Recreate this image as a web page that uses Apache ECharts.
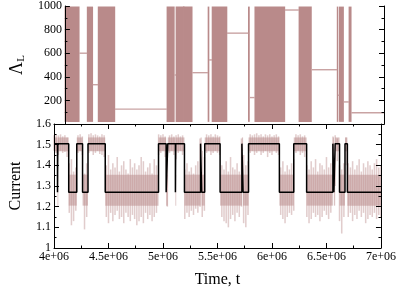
<!DOCTYPE html>
<html><head><meta charset="utf-8">
<script src="https://cdn.jsdelivr.net/npm/echarts@6/dist/echarts.min.js"></script>
<style>html,body{margin:0;padding:0;background:#fff}#c{width:399px;height:289px}</style>
</head><body><div id="c"></div>
<script>
// ---- data ----
const xMin = 4.0e6, xMax = 7.0e6;
const xTickValues = [4.0e6, 4.5e6, 5.0e6, 5.5e6, 6.0e6, 6.5e6, 7.0e6];
const xTickLabels = ['4e+06', '4.5e+06', '5e+06', '5.5e+06', '6e+06', '6.5e+06', '7e+06'];
const yTopTickValues = [0, 200, 400, 600, 800, 1000];
const yTopTickLabels = ['', '200', '400', '600', '800', '1000'];
const yBotTickValues = [1.0, 1.1, 1.2, 1.3, 1.4, 1.5, 1.6];
const yBotTickLabels = ['1', '1.1', '1.2', '1.3', '1.4', '1.5', '1.6'];

// segments of the switching process (start times; each ends at next start or xMax)
const segStart = [4.000e6, 4.032e6, 4.035e6, 4.135e6, 4.209e6, 4.262e6, 4.312e6, 4.470e6, 4.959e6, 5.029e6,
                  5.044e6, 5.114e6, 5.117e6, 5.197e6, 5.345e6, 5.355e6, 5.383e6, 5.524e6, 5.724e6, 5.735e6,
                  5.785e6, 6.068e6, 6.200e6, 6.318e6, 6.559e6, 6.568e6, 6.580e6, 6.620e6, 6.670e6, 6.692e6];
// current step level (black line)
const segCurrent = [1.505, 1.27, 1.505, 1.27, 1.505, 1.27, 1.505, 1.27, 1.505, 1.27,
                    1.505, 1.27, 1.505, 1.27, 1.505, 1.27, 1.505, 1.27, 1.505, 1.27,
                    1.505, 1.27, 1.505, 1.27, 1.505, 1.27, 1.505, 1.27, 1.505, 1.27];
// top panel: 1 = Lambda_L oscillating rapidly over full range, 0 = constant plateau
const segOscillating = [1, 1, 1, 0, 1, 0, 1, 0, 1, 0,
                        1, 1, 1, 0, 1, 0, 1, 0, 1, 0,
                        1, 0, 1, 0, 1, 0, 1, 0, 1, 0];
const segLambda = [null, null, null, 600, null, 333, null, 126, null, 415,
                   null, null, null, 435, null, 543, null, 770, null, 224,
                   null, 966, null, 460, null, 244, null, 187, null, 95];
const oscRange = [18, 995];

// noisy current envelope, sampled every noiseStep from noiseT0
const noiseT0 = 4.0e6, noiseStep = 20000;
const noiseHi = [
  1.545, 1.55, 1.545, 1.55, 1.54, 1.545, 1.535,
  1.41, 1.43, 1.37, 1.39,
  1.545, 1.55, 1.54,
  1.36, 1.41,
  1.55, 1.555, 1.545, 1.55, 1.545, 1.54, 1.55, 1.545,
  1.40, 1.45, 1.38, 1.41, 1.39, 1.44, 1.37, 1.40, 1.42, 1.38, 1.36, 1.43,
  1.39, 1.41, 1.38, 1.40, 1.44, 1.42, 1.37, 1.39, 1.41, 1.36, 1.43, 1.40,
  1.55, 1.545, 1.55, 1.54,
  1.50,
  1.545, 1.55, 1.54, 1.545, 1.55, 1.54, 1.545,
  1.38, 1.41, 1.37, 1.39, 1.36, 1.40, 1.42,
  1.53,
  1.47, 1.44,
  1.55, 1.545, 1.55, 1.54, 1.55, 1.545, 1.54,
  1.40, 1.38, 1.42, 1.37, 1.44, 1.39, 1.38, 1.41, 1.37,
  1.53,
  1.45, 1.40, 1.42,
  1.55, 1.545, 1.55, 1.555, 1.545, 1.55, 1.54, 1.55, 1.545, 1.55, 1.54, 1.545, 1.55, 1.54,
  1.39, 1.42, 1.37, 1.40, 1.38, 1.41, 1.43,
  1.55, 1.545, 1.55, 1.54, 1.545,
  1.40, 1.38, 1.42, 1.39, 1.43, 1.37, 1.41, 1.40, 1.38, 1.44, 1.39, 1.41,
  1.54, 1.545, 1.53,
  1.40, 1.38, 1.41,
  1.535,
  1.41, 1.39, 1.42, 1.38, 1.40, 1.43, 1.37, 1.41, 1.39, 1.42, 1.40, 1.38, 1.41, 1.43, 1.39, 1.40
];
const noiseLo = [
  1.47, 1.46, 1.45, 1.47, 1.46, 1.465, 1.44,
  1.17, 1.11, 1.13, 1.18,
  1.46, 1.47, 1.45,
  1.09, 1.15,
  1.46, 1.47, 1.45, 1.46, 1.47, 1.455, 1.45, 1.44,
  1.15, 1.12, 1.17, 1.13, 1.16, 1.18, 1.14, 1.15, 1.12, 1.17, 1.15, 1.13,
  1.16, 1.14, 1.11, 1.13, 1.15, 1.12, 1.17, 1.14, 1.16, 1.13, 1.15, 1.17,
  1.45, 1.46, 1.47, 1.44,
  1.20,
  1.46, 1.47, 1.45, 1.43, 1.46, 1.47, 1.45,
  1.14, 1.17, 1.15, 1.18, 1.16, 1.19, 1.17,
  1.20,
  1.15, 1.18,
  1.46, 1.47, 1.45, 1.46, 1.47, 1.46, 1.45,
  1.15, 1.13, 1.12, 1.10, 1.14, 1.16, 1.13, 1.17, 1.15,
  1.20,
  1.12, 1.10, 1.16,
  1.46, 1.47, 1.45, 1.46, 1.47, 1.45, 1.46, 1.47, 1.44, 1.46, 1.45, 1.47, 1.46, 1.45,
  1.16, 1.14, 1.12, 1.15, 1.17, 1.16, 1.18,
  1.46, 1.47, 1.45, 1.46, 1.44,
  1.15, 1.12, 1.14, 1.17, 1.15, 1.16, 1.13, 1.15, 1.18, 1.16, 1.14, 1.17,
  1.40, 1.30, 1.42,
  1.13, 1.07, 1.15,
  1.40,
  1.15, 1.17, 1.13, 1.16, 1.14, 1.18, 1.15, 1.17, 1.12, 1.14, 1.16, 1.15, 1.17, 1.14, 1.16, 1.15
];
// dense core of the current noise for high / low state
const coreHigh = [1.468, 1.535];
const coreLow = [1.205, 1.355];

// ---- build ----
const segEnd = segStart.map((s, i) => i + 1 < segStart.length ? segStart[i + 1] : xMax);
const stepLine = [];
segStart.forEach((s, i) => { stepLine.push([s, segCurrent[i]]); stepLine.push([segEnd[i], segCurrent[i]]); });
const oscBlocks = [], plateaus = [], cores = [];
segStart.forEach((s, i) => {
  if (segOscillating[i]) oscBlocks.push([s, segEnd[i], oscRange[0], oscRange[1]]);
  if (segLambda[i] != null) plateaus.push([s, segEnd[i], segLambda[i]]);
  const c = segCurrent[i] > 1.4 ? coreHigh : coreLow;
  cores.push([s, segEnd[i], c[0], c[1]]);
});
const streaks = noiseHi.map((h, i) => [noiseT0 + i * noiseStep, noiseLo[i], h]);

const SERIF = '"Liberation Serif", "DejaVu Serif", serif';
const RB = '#bc8f8f';

function rectItem(color, opacity, pad) {
  return function (params, api) {
    const a = api.coord([api.value(0), api.value(3)]);
    const b = api.coord([api.value(1), api.value(2)]);
    return { type: 'rect', shape: { x: a[0] - pad, y: a[1], width: Math.max(b[0] - a[0], 0.8) + 2 * pad, height: b[1] - a[1] },
      style: { fill: color, opacity: opacity } };
  };
}

function fmtFrom(values, labels) {
  return v => { for (let k = 0; k < values.length; k++) if (Math.abs(v - values[k]) < 1e-6 * Math.max(1, Math.abs(values[k]))) return labels[k]; return ''; };
}

const tickCommon = { show: true, inside: true, length: 5, lineStyle: { color: '#000', width: 1 } };
const minorCommon = { show: true, splitNumber: 2, length: 2.5, lineStyle: { color: '#000', width: 1 } };
const lineCommon = { show: true, lineStyle: { color: '#000', width: 1 } };

const chart = echarts.init(document.getElementById('c'), null, { renderer: 'canvas' });
chart.setOption({
  animation: false,
  backgroundColor: '#fff',
  grid: [
    { left: 44, top: 5, width: 340, height: 119 },
    { left: 44, top: 124, width: 340, height: 134 }
  ],
  xAxis: [
    { type: 'value', gridIndex: 0, min: xMin, max: xMax, interval: 500000, position: 'bottom', z: 10,
      axisLine: lineCommon, axisTick: { show: false }, axisLabel: { show: false }, splitLine: { show: false } },
    { type: 'value', gridIndex: 0, min: xMin, max: xMax, interval: 500000, position: 'top', z: 10,
      axisLine: lineCommon, axisTick: { show: false }, axisLabel: { show: false }, splitLine: { show: false } },
    { type: 'value', gridIndex: 1, min: xMin, max: xMax, interval: 500000, position: 'bottom', z: 10,
      axisLine: lineCommon, axisTick: tickCommon, minorTick: minorCommon, splitLine: { show: false },
      axisLabel: { margin: 3, fontFamily: SERIF, fontSize: 12, color: '#000', formatter: fmtFrom(xTickValues, xTickLabels), hideOverlap: false },
      name: 'Time, t', nameLocation: 'middle', nameGap: 24,
      nameTextStyle: { fontFamily: SERIF, fontSize: 16, color: '#000' } },
    { type: 'value', gridIndex: 1, min: xMin, max: xMax, interval: 500000, position: 'top', z: 10,
      axisLine: lineCommon, axisTick: tickCommon, minorTick: minorCommon, axisLabel: { show: false }, splitLine: { show: false } }
  ],
  yAxis: [
    { type: 'value', gridIndex: 0, min: 0, max: 1000, interval: 200, position: 'left', z: 10,
      axisLine: lineCommon, axisTick: tickCommon, minorTick: minorCommon, splitLine: { show: false },
      axisLabel: { margin: 3, fontFamily: SERIF, fontSize: 12, color: '#000', formatter: fmtFrom(yTopTickValues, yTopTickLabels) },
      name: '{a|Λ}{b|L}', nameLocation: 'middle', nameGap: 30, nameRotate: 90,
      nameTextStyle: { color: '#000', rich: { a: { fontFamily: SERIF, fontSize: 18, color: '#000' }, b: { fontFamily: SERIF, fontSize: 11, color: '#000', padding: [9, 0, 0, 0] } } } },
    { type: 'value', gridIndex: 0, min: 0, max: 1000, interval: 200, position: 'right', z: 10,
      axisLine: lineCommon, axisTick: tickCommon, minorTick: minorCommon, axisLabel: { show: false }, splitLine: { show: false } },
    { type: 'value', gridIndex: 1, min: 1.0, max: 1.6, interval: 0.1, position: 'left', z: 10,
      axisLine: lineCommon, axisTick: tickCommon, minorTick: minorCommon, splitLine: { show: false },
      axisLabel: { margin: 3, fontFamily: SERIF, fontSize: 12, color: '#000', formatter: fmtFrom(yBotTickValues, yBotTickLabels) },
      name: 'Current', nameLocation: 'middle', nameGap: 30, nameRotate: 90,
      nameTextStyle: { fontFamily: SERIF, fontSize: 16, color: '#000' } },
    { type: 'value', gridIndex: 1, min: 1.0, max: 1.6, interval: 0.1, position: 'right', z: 10,
      axisLine: lineCommon, axisTick: tickCommon, minorTick: minorCommon, axisLabel: { show: false }, splitLine: { show: false } }
  ],
  series: [
    { type: 'custom', xAxisIndex: 0, yAxisIndex: 0, data: oscBlocks, renderItem: rectItem('#b98a8a', 1, 0.3), z: 2, silent: true },
    { type: 'custom', xAxisIndex: 0, yAxisIndex: 0, data: plateaus, z: 3, silent: true,
      renderItem: function (params, api) {
        const a = api.coord([api.value(0), api.value(2)]);
        const b = api.coord([api.value(1), api.value(2)]);
        return { type: 'line', shape: { x1: a[0], y1: a[1], x2: b[0], y2: b[1] }, style: { stroke: '#c9a3a3', lineWidth: 1.4 } };
      } },
    { type: 'custom', xAxisIndex: 2, yAxisIndex: 2, data: cores, renderItem: rectItem(RB, 0.55, 0), z: 2, silent: true },
    { type: 'custom', xAxisIndex: 2, yAxisIndex: 2, data: streaks, z: 3, silent: true,
      renderItem: function (params, api) {
        const t = api.value(0);
        const a = api.coord([t, api.value(2)]);
        const b = api.coord([t, api.value(1)]);
        const w = api.size([noiseStep, 0])[0];
        return { type: 'rect', shape: { x: a[0] - w * 0.35, y: a[1], width: w * 0.7, height: b[1] - a[1] },
          style: { fill: RB, opacity: 0.45 } };
      } },
    { type: 'line', xAxisIndex: 2, yAxisIndex: 2, data: stepLine, showSymbol: false, symbol: 'none', z: 5,
      lineStyle: { color: '#000', width: 1.5 }, silent: true }
  ]
});
</script>
</body></html>
